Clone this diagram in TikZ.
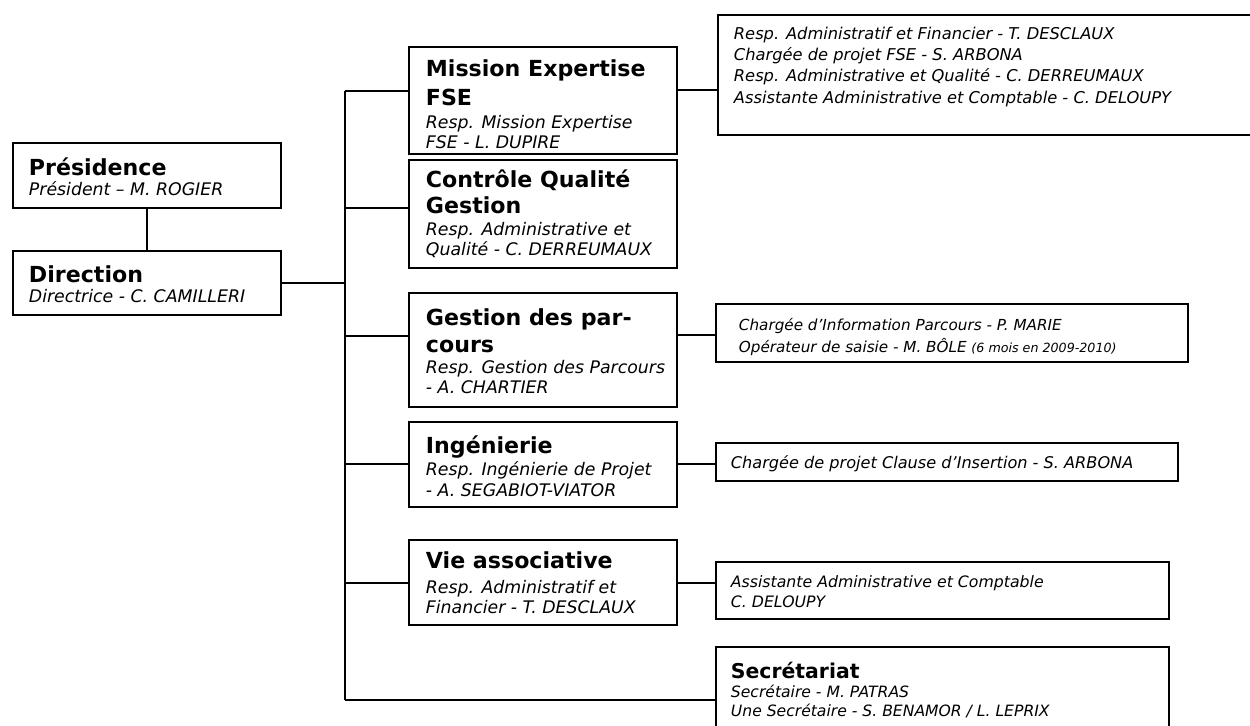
\documentclass[tikz,border=0pt]{standalone}
\usepackage{fontspec}
\setmainfont{DejaVu Sans}
\usetikzlibrary{fit}
\begin{document}
\begin{tikzpicture}[x=0.75pt,y=-0.75pt,
  line width=1.4pt,
  box/.style={draw=black, line width=1.4pt, inner sep=0pt, fill=none},
  ttl/.style={font=\bfseries\fontsize{16.6}{20}\selectfont, anchor=base west, inner sep=0pt, align=left},
  sub/.style={font=\itshape\fontsize{13}{15}\selectfont, anchor=base west, inner sep=0pt, align=left},
  rsub/.style={font=\itshape\fontsize{11.9}{15}\selectfont, anchor=base west, inner sep=0pt, align=left}]
\clip (0,0) rectangle (1250,725);
% boxes
\node[box, fit={(13,143) (281,208)}] (pres) {};
\node[box, fit={(13,251) (281,315)}] (dir) {};
\node[box, fit={(409,47) (677,154)}] (mis) {};
\node[box, fit={(409,160) (677,268)}] (ctl) {};
\node[box, fit={(409,293) (677,407)}] (ges) {};
\node[box, fit={(409,422) (677,507)}] (ing) {};
\node[box, fit={(409,540) (677,625)}] (vie) {};
\node[box, fit={(716,647) (1169,740)}] (sec) {};
\node[box, fit={(718,15) (1270,135)}] (r1) {};
\node[box, fit={(716,304) (1188,362)}] (r2) {};
\node[box, fit={(716,443) (1178,481)}] (r3) {};
\node[box, fit={(716,562) (1169,619)}] (r4) {};
% texts (anchor = baseline of the last line)
\node[ttl] (presT) at (28,175) {Présidence};
\node[sub] (presS) at (28,195) {Président – M. ROGIER};
\node[ttl] (dirT) at (28,282) {Direction};
\node[sub] (dirS) at (28,302) {Directrice - C. CAMILLERI};
\node[ttl, font=\bfseries\fontsize{16.6}{21.75}\selectfont] (misT) at (425,105) {Mission Expertise\\FSE};
\node[sub] (misS) at (425,148) {Resp. Mission Expertise\\FSE - L. DUPIRE};
\node[ttl, font=\bfseries\fontsize{16.6}{19.5}\selectfont] (ctlT) at (425,213) {Contrôle Qualité\\Gestion};
\node[sub] (ctlS) at (425,255) {Resp. Administrative et\\Qualité - C. DERREUMAUX};
\node[ttl, font=\bfseries\fontsize{16.6}{20.25}\selectfont] (gesT) at (425,352) {Gestion des par-\\cours};
\node[sub] (gesS) at (425,393) {Resp. Gestion des Parcours\\- A. CHARTIER};
\node[ttl] (ingT) at (425,453) {Ingénierie};
\node[sub, font=\itshape\fontsize{13}{15.75}\selectfont] (ingS) at (425,496) {Resp. Ingénierie de Projet\\- A. SEGABIOT-VIATOR};
\node[ttl] (vieT) at (425,568) {Vie associative};
\node[sub] (vieS) at (425,613) {Resp. Administratif et\\Financier - T. DESCLAUX};
\node[ttl, font=\bfseries\fontsize{15.3}{20}\selectfont] (secT) at (730,678) {Secrétariat};
\node[rsub, font=\itshape\fontsize{11.7}{14.25}\selectfont] (secS) at (730,716) {Secrétaire - M. PATRAS\\Une Secrétaire - S. BENAMOR / L. LEPRIX};
\node[rsub, font=\itshape\fontsize{12.2}{16}\selectfont] (r1S) at (733,103) {Resp. Administratif et Financier - T. DESCLAUX\\Chargée de projet FSE - S. ARBONA\\Resp. Administrative et Qualité - C. DERREUMAUX\\Assistante Administrative et Comptable - C. DELOUPY};
\node[rsub, font=\itshape\fontsize{11.4}{16.5}\selectfont] (r2S) at (738,352) {Chargée d’Information Parcours - P. MARIE\\Opérateur de saisie - M. BÔLE {\fontsize{9.5}{11}\selectfont (6 mois en 2009-2010)}};
\node[rsub, font=\itshape\fontsize{12.1}{15}\selectfont] (r3S) at (730,468) {Chargée de projet Clause d’Insertion - S. ARBONA};
\node[rsub, font=\itshape\fontsize{11.8}{15}\selectfont] (r4S) at (730,607) {Assistante Administrative et Comptable\\C. DELOUPY};
% spine
\coordinate (spTop) at (345,91);
\coordinate (spCtl) at (345,208);
\coordinate (spGes) at (345,336);
\coordinate (spIng) at (345,464);
\coordinate (spVie) at (345,583);
\coordinate (spBot) at (345,700);
\draw (spTop) -- (spBot);
\draw (pres.south) -- (dir.north);
\draw (dir.east) -- (dir.east -| spTop);
\draw (spTop) -- (spTop -| mis.west);
\draw (spCtl) -- (spCtl -| ctl.west);
\draw (spGes) -- (spGes -| ges.west);
\draw (spIng) -- (spIng -| ing.west);
\draw (spVie) -- (spVie -| vie.west);
\draw (spBot) -- (spBot -| sec.west);
% right connectors
\coordinate (mr) at (677,90);
\coordinate (gr) at (677,335);
\coordinate (ir) at (677,464);
\coordinate (vr) at (677,583);
\draw (mr) -- (mr -| r1.west);
\draw (gr) -- (gr -| r2.west);
\draw (ir) -- (ir -| r3.west);
\draw (vr) -- (vr -| r4.west);
\end{tikzpicture}
\end{document}
